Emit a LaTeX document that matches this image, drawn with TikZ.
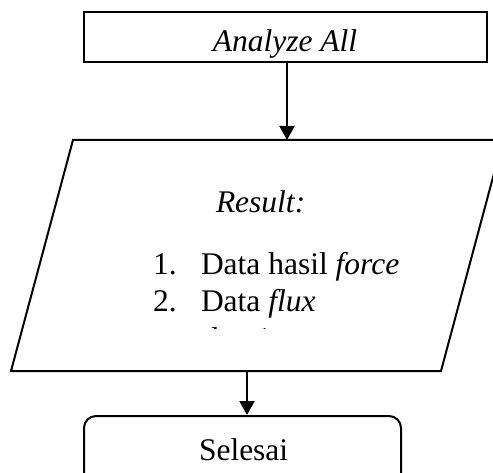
\documentclass[tikz,border=0pt]{standalone}
\usepackage{fontspec}
\setmainfont{Liberation Serif}
\usetikzlibrary{arrows.meta}
\begin{document}
\begin{tikzpicture}[x=1pt,y=-1pt,
  line width=2pt, line join=miter,
  flowline/.style={-{Triangle[length=14pt,width=15pt]}, line width=2pt},
  txt/.style={inner sep=0pt, anchor=base west, font=\fontsize{31.5}{37}\selectfont},
]
\useasboundingbox (0,0) rectangle (493,473);
\clip (0,0) rectangle (493,473);

% process box
\node[draw, minimum width=403pt, minimum height=50pt, inner sep=0pt] (analyze) at (285.5,37) {};
\node[txt, anchor=base] (analyzetext) at (285,52) {\itshape Analyze All};

% input/output parallelogram
\draw (11,371) -- (73,140) -- (503,140) -- (441,371) -- cycle;
\coordinate (ioTop) at (287,140);
\coordinate (ioBot) at (247,371);

\node[txt] (resulthead) at (215,213) {\itshape Result:};
\node[txt] (num1) at (152,275) {1.};
\node[txt] (item1) at (200,275) {Data hasil \textit{force}};
\node[txt] (num2) at (152,312) {2.};
\node[txt] (item2) at (200,312) {Data \textit{flux}};
\begin{scope}
  \clip (0,0) rectangle (493,328.5);
  \node[txt] (item3) at (200,349) {\textit{density}};
\end{scope}

% terminator
\node[draw, rounded corners=12pt, minimum width=317pt, minimum height=104pt, inner sep=0pt] (selesai) at (242.5,468) {};
\node[txt] (selesaitext) at (198,460) {Selesai};

% connectors
\draw[flowline] (ioTop |- analyze.south) -- (ioTop);
\draw[flowline] (ioBot) -- (ioBot |- selesai.north);
\end{tikzpicture}
\end{document}
